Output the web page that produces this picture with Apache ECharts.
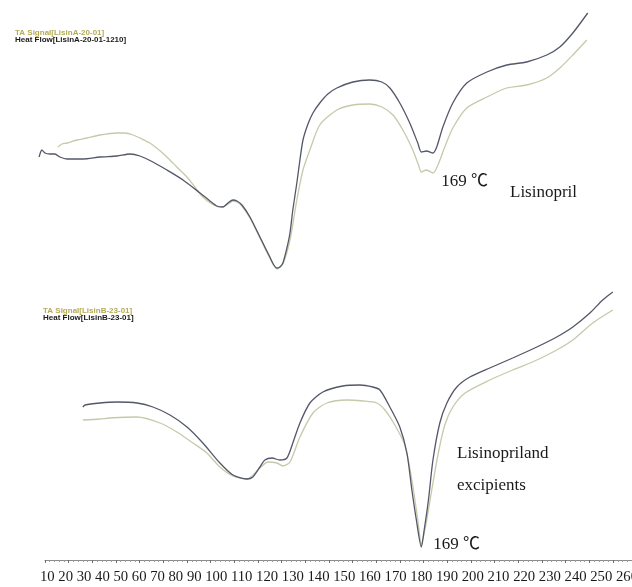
<!DOCTYPE html>
<html>
<head>
<meta charset="utf-8">
<script src="https://cdn.jsdelivr.net/npm/echarts@6/dist/echarts.min.js"></script>
<style>
  html, body { margin: 0; padding: 0; background: #ffffff; }
  #chart { width: 632px; height: 587px; }
</style>
</head>
<body>
<div id="chart"></div>
<script>
// DSC thermograms: temperature (°C) vs. heat flow / TA signal (arbitrary units)

const tickLabels = ['10','20','30','40','50','60','70','80','90','100','110','120','130',
  '140','150','160','170','180','190','200','210','220','230','240','250','260'];

const peakTemp = 169;

// Lisinopril — heat flow (dark trace)
const lisHeatFlow = [
  [7.5,143],[8.7,150],[10.0,147],[12.1,146],[14.2,146],[16.3,143],[19.3,141],[22.7,141],
  [26.0,141],[33.2,143],[40.4,144],[45.9,146],[50.1,144],[55.6,138],[61.5,130],[68.3,120],
  [75.5,107],[79.7,99],[82.6,94],[85.2,93],[87.3,97],[89.4,100],[91.1,99],[93.2,95],
  [96.6,83],[100.8,63],[105.0,43],[106.7,35],[108.0,32],[109.2,33],[110.5,37],[112.2,52],
  [113.5,67],[114.7,90],[116.4,117],[117.7,140],[119.0,160],[121.1,176],[123.2,187],
  [126.1,197],[129.5,206],[133.3,212],[140.1,218],[147.2,220],[152.3,218],[155.7,212],
  [159.9,197],[164.1,177],[167.5,157],[169.0,148],[171.2,149],[173.9,147],[175.5,153],
  [178.1,173],[182.3,197],[188.2,217],[196.7,228],[205.1,235],[213.5,238],[222.0,245],
  [227.5,253],[233.0,267],[239.3,287]
];

// Lisinopril — TA signal (pale trace)
const lisSignal = [
  [15.5,153],[17.2,156],[19.3,157],[23.5,160],[27.7,162],[33.2,165],[40.4,167],[43.8,167],
  [47.2,165],[51.0,161],[54.3,157],[57.7,151],[61.5,143],[65.7,133],[70.0,123],[73.3,113],
  [76.7,103],[80.5,96],[83.9,93],[86.0,94],[88.1,97],[89.4,99],[91.1,98],[93.2,94],
  [96.6,82],[100.8,62],[105.0,42],[108.0,31],[110.5,36],[113.5,60],[116.4,100],[119.0,130],
  [121.9,150],[126.1,175],[133.3,190],[140.1,195],[147.2,196],[152.3,193],[157.0,185],
  [161.2,170],[165.4,150],[167.8,135],[169.0,128],[171.2,130],[173.9,127],[176.0,135],
  [178.9,153],[182.3,172],[188.2,192],[196.7,203],[205.1,212],[213.5,215],[222.0,222],
  [227.5,232],[233.0,245],[238.9,260]
];

// Lisinopril and excipients — heat flow (dark trace)
const mixHeatFlow = [
  [26.0,153],[26.9,155],[33.2,157],[40.4,158],[48.9,157],[55.6,153],[62.8,145],[70.0,133],
  [76.7,117],[83.9,97],[89.4,85],[95.3,81],[97.8,83],[100.8,93],[102.9,100],[105.9,102],
  [109.2,100],[112.2,102],[114.7,117],[117.7,137],[121.9,157],[127.4,168],[135.8,174],
  [143.0,175],[148.5,173],[151.5,170],[155.7,153],[159.9,133],[162.9,107],[165.0,70],
  [166.9,40],[169.0,13],[170.2,30],[172.0,60],[173.9,100],[176.8,137],[179.8,157],
  [184.0,173],[189.5,183],[197.9,192],[207.6,202],[217.8,213],[226.2,223],[233.0,233],
  [240.2,247],[245.6,260],[249.9,268]
];

// Lisinopril and excipients — TA signal (pale trace)
const mixSignal = [
  [26.0,140],[33.2,141],[37.4,142],[48.9,143],[58.6,137],[65.7,128],[72.5,117],[78.4,107],
  [83.9,93],[89.4,84],[95.3,81],[100.8,92],[104.2,98],[108.0,97],[110.5,94],[113.5,98],
  [117.7,123],[123.2,147],[129.1,157],[137.5,160],[144.3,159],[150.2,157],[153.6,150],
  [157.8,135],[162.0,115],[165.0,80],[167.5,40],[169.0,16],[170.9,35],[173.4,70],
  [176.0,105],[178.9,135],[182.3,153],[187.5,167],[197.9,180],[207.6,190],[217.8,200],
  [226.2,210],[233.0,220],[241.4,237],[249.9,250]
];

const darkColor = '#535768';
const paleColor = '#c6c9a9';
const serif = '"Liberation Serif", "Noto Sans CJK SC", serif';

function trace(data, color, xi, yi, extra) {
  return Object.assign({
    type: 'line',
    data: data,
    xAxisIndex: xi,
    yAxisIndex: yi,
    showSymbol: false,
    smooth: 0.25,
    clip: false,
    lineStyle: { color: color, width: 1.3 },
    silent: true,
    animation: false
  }, extra || {});
}

function peakMark(coord, offset) {
  return {
    silent: true,
    animation: false,
    symbolSize: 0,
    data: [{
      coord: coord,
      label: {
        show: true,
        position: offset,
        formatter: peakTemp + ' ℃',
        align: 'left',
        verticalAlign: 'middle',
        fontFamily: serif,
        fontSize: 17,
        color: '#1a1a1a'
      }
    }]
  };
}

const chart = echarts.init(document.getElementById('chart'), null, { renderer: 'canvas' });

chart.setOption({
  backgroundColor: '#ffffff',
  animation: false,
  grid: [
    { left: 21.32, right: 0, top: 0, height: 300 },
    { left: 45, right: 0, top: 300, height: 260 }
  ],
  xAxis: [
    { gridIndex: 0, type: 'value', min: 0, max: 258, show: false },
    {
      gridIndex: 1, type: 'value', min: 10, max: 258, interval: 10,
      axisLine: { lineStyle: { color: '#8a8a8a', width: 1 } },
      axisTick: { length: 3, lineStyle: { color: '#6e6e6e' } },
      minorTick: { show: true, splitNumber: 5, length: 2, lineStyle: { color: '#9a9a9a' } },
      axisLabel: { show: false },
      splitLine: { show: false }
    }
  ],
  yAxis: [
    { gridIndex: 0, type: 'value', min: 0, max: 300, show: false },
    { gridIndex: 1, type: 'value', min: 0, max: 260, show: false }
  ],
  series: [
    trace(lisSignal, paleColor, 0, 0, { markPoint: peakMark([peakTemp, 128], [20, 10]) }),
    trace(lisHeatFlow, darkColor, 0, 0),
    trace(mixSignal, paleColor, 1, 1),
    trace(mixHeatFlow, darkColor, 1, 1, { markPoint: peakMark([peakTemp, 13], [12, -2]) })
  ],
  graphic: [
    { type: 'text', left: 15, top: 29, style: { text: 'TA Signal[LisinA-20-01]', font: 'bold 8px "Liberation Sans"', fill: '#b5ab55' } },
    { type: 'text', left: 15, top: 36, style: { text: 'Heat Flow[LisinA-20-01-1210]', font: 'bold 8px "Liberation Sans"', fill: '#1a1a1a' } },
    { type: 'text', left: 43, top: 307, style: { text: 'TA Signal[LisinB-23-01]', font: 'bold 8px "Liberation Sans"', fill: '#b5ab55' } },
    { type: 'text', left: 43, top: 314, style: { text: 'Heat Flow[LisinB-23-01]', font: 'bold 8px "Liberation Sans"', fill: '#1a1a1a' } },
    { type: 'text', left: 510, top: 184, style: { text: 'Lisinopril', font: '17px ' + serif, fill: '#1a1a1a' } },
    { type: 'text', left: 457, top: 445, style: { text: 'Lisinopriland', font: '17px ' + serif, fill: '#1a1a1a' } },
    { type: 'text', left: 457, top: 477, style: { text: 'excipients', font: '17px ' + serif, fill: '#1a1a1a' } },
    { type: 'text', left: 40, top: 570, style: { text: tickLabels.join(' '), font: '14.7px ' + serif, fill: '#1a1a1a' } }
  ]
});
</script>
</body>
</html>
